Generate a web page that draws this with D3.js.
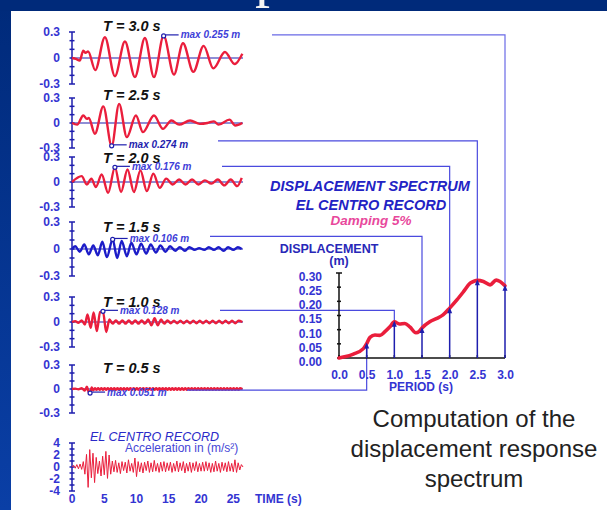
<!DOCTYPE html>
<html><head><meta charset="utf-8">
<script src="https://cdn.jsdelivr.net/npm/d3@7"></script>
<style>html,body{margin:0;padding:0;background:#fff}svg{display:block}</style>
</head><body><svg id="chart" width="607" height="510"></svg>
<script>
// ---- data ----
const periods = [3.0, 2.5, 2.0, 1.5, 1.0, 0.5];
const peakDisp = [0.255, 0.274, 0.176, 0.106, 0.128, 0.051];

// displacement response histories [time s, displacement m]
const resp30 = [[0,0],[0.6,-0.01],[1.2,-0.03],[1.75,0.085],[2.1,0.06],[2.5,0.075],[3.6,-0.14],[5.1,0.24],[6.65,-0.21],[8.2,0.19],[9.75,-0.22],[11.3,0.23],[12.7,-0.22],[14.2,0.255],[15.8,-0.19],[17.2,0.17],[18.8,-0.16],[20.4,0.14],[21.9,-0.12],[23.7,0.07],[25.2,-0.07],[26.4,0.05]];
const resp25 = [[0,0],[0.8,-0.02],[1.75,0.09],[2.3,0.05],[2.6,0.06],[3.55,-0.13],[4.85,0.2],[6.15,-0.274],[7.3,0.23],[8.5,-0.17],[9.9,0.09],[11.0,-0.11],[12.7,0.09],[14.1,-0.07],[15.4,0.03],[16.6,-0.02],[18.3,0.03],[19.8,-0.01],[21.0,0.0],[22.0,0.02],[22.7,-0.02],[24.4,0.04],[25.3,-0.03],[26.4,0.0]];
const resp20 = [[0,0],[1.5,0.07],[2.3,-0.03],[3.0,0.04],[3.7,-0.06],[4.6,0.09],[5.6,-0.13],[6.65,0.176],[7.6,-0.12],[8.6,0.15],[9.6,-0.12],[10.6,0.14],[11.6,-0.11],[12.6,0.1],[13.6,-0.07],[14.6,0.04],[15.6,-0.03],[16.6,0.03],[17.6,-0.03],[18.6,0.03],[19.6,-0.03],[20.6,0.02],[21.6,-0.02],[22.6,0.03],[23.6,-0.04],[24.6,0.03],[25.6,-0.05],[26.3,0.05]];
const resp15 = [[0,0],[0.5,0.03],[1.2,-0.03],[1.9,0.05],[2.6,-0.06],[3.3,0.04],[4.0,-0.07],[4.7,0.08],[5.4,-0.09],[6.3,0.106],[7.0,-0.1],[7.7,0.09],[8.5,-0.08],[9.2,0.07],[10.0,-0.06],[10.7,0.06],[11.5,-0.05],[12.2,0.05],[13.0,-0.04],[13.7,0.04],[14.5,-0.03],[15.2,0.03],[16.0,-0.02],[16.7,0.02],[17.5,-0.02],[18.2,0.02],[19.0,-0.01],[19.7,0.01],[20.5,-0.01],[21.2,0.02],[22.0,-0.01],[22.7,0.02],[23.5,-0.02],[24.2,0.02],[25.0,-0.01],[25.7,0.02],[26.3,0.0]];
const resp10 = [[0,0],[0.5,0.01],[1.0,-0.01],[1.5,0.02],[2.0,-0.03],[2.4,0.09],[2.9,-0.07],[3.35,0.116],[3.85,-0.11],[4.35,0.12],[4.8,0.128],[5.3,-0.12],[5.8,0.03],[6.3,-0.02],[6.8,0.02],[7.3,-0.02],[7.8,0.02],[8.3,-0.02],[8.8,0.02],[9.3,-0.02],[9.8,0.02],[10.3,-0.02],[10.8,0.02],[11.3,-0.02],[11.8,0.03],[12.3,-0.04],[12.8,0.045],[13.3,-0.04],[13.8,0.03],[14.3,-0.02],[14.8,0.02],[15.3,-0.015],[15.8,0.015],[16.3,-0.015],[16.8,0.015],[17.3,-0.015],[17.8,0.015],[18.3,-0.015],[18.8,0.015],[19.3,-0.015],[19.8,0.015],[20.3,-0.015],[20.8,0.015],[21.3,-0.015],[21.8,0.015],[22.3,-0.015],[22.8,0.015],[23.3,-0.015],[23.8,0.015],[24.3,-0.015],[24.8,0.015],[25.3,-0.015],[25.8,0.015],[26.4,0]];
const resp05 = [[0,0],[0.5,0.005],[1.0,-0.005],[1.5,0.01],[2.0,-0.02],[2.3,0.03],[2.55,-0.03],[2.8,-0.051],[3.05,0.02],[3.3,-0.015],[3.55,0.01],[3.8,-0.01],[4.05,0.01],[4.3,-0.01],[4.55,0.01],[4.8,-0.01],[5.05,0.01],[5.3,-0.01],[5.55,0.01],[5.8,-0.01],[6.05,0.01],[6.3,-0.01],[6.55,0.01],[6.8,-0.01],[7.05,0.01],[7.3,-0.01],[7.55,0.01],[7.8,-0.01],[8.05,0.01],[8.3,-0.01],[8.55,0.01],[8.8,-0.01],[9.05,0.01],[9.3,-0.01],[9.55,0.01],[9.8,-0.01],[10.05,0.01],[10.3,-0.01],[10.55,0.01],[10.8,-0.01],[11.05,0.01],[11.3,-0.01],[11.55,0.01],[11.8,-0.01],[12.05,0.01],[12.3,-0.01],[12.55,0.01],[12.8,-0.01],[13.05,0.01],[13.3,-0.01],[13.55,0.01],[13.8,-0.01],[14.05,0.01],[14.3,-0.01],[14.55,0.01],[14.8,-0.01],[15.05,0.01],[15.3,-0.01],[15.55,0.01],[15.8,-0.01],[16.05,0.01],[16.3,-0.01],[16.55,0.01],[16.8,-0.01],[17.05,0.01],[17.3,-0.01],[17.55,0.01],[17.8,-0.01],[18.05,0.01],[18.3,-0.01],[18.55,0.01],[18.8,-0.01],[19.05,0.01],[19.3,-0.01],[19.55,0.01],[19.8,-0.01],[20.05,0.01],[20.3,-0.01],[20.55,0.01],[20.8,-0.01],[21.05,0.01],[21.3,-0.01],[21.55,0.01],[21.8,-0.01],[22.05,0.01],[22.3,-0.01],[22.55,0.01],[22.8,-0.01],[23.05,0.01],[23.3,-0.01],[23.55,0.01],[23.8,-0.01],[24.05,0.01],[24.3,-0.01],[24.55,0.01],[24.8,-0.01],[25.05,0.01],[25.3,-0.01],[25.55,0.01],[25.8,-0.01],[26.05,0.01],[26.4,0]];
const responses = [resp30, resp25, resp20, resp15, resp10, resp05];

// ground acceleration (m/s²), sampled every accelStep seconds
const accelStep = 0.25;
const accel = [
  0,0.3,-0.2,0.4,-0.3,0.5,-0.4,
  0.9,-1.2,
  2.1,-3.4,2.9,-1.8,2.3,-2.6,1.6,-1.1,1.0,-1.5,1.8,-1.3,2.6,-1.9,2.0,-1.2,
  1.0,-0.8,1.1,-0.9,0.7,-1.1,0.9,-0.6,0.8,-1.0,1.2,-0.7,0.6,-0.9,1.5,-1.6,
  0.9,-0.8,0.7,-1.0,0.8,-0.6,1.0,-0.9,0.7,-0.8,1.1,-0.7,0.6,-0.9,0.8,-0.7,0.9,-0.8,0.7,-0.6,
  0.8,-0.9,0.6,-0.7,1.0,-0.8,0.7,-0.6,0.9,-1.0,0.6,-0.7,0.8,-0.9,0.7,-0.6,0.9,-0.8,0.6,-0.7,
  0.8,-0.7,0.9,-0.6,0.7,-0.9,0.6,-0.8,1.0,-0.7,0.6,-0.9,0.8,-0.6,0.7,-0.8,0.9,-0.7,0.6,-0.8,
  1.2,-0.9,0.7,-0.5,0.4,0];

// displacement spectrum (5% damping)
const specPeriod = [0,0.1,0.26,0.44,0.5,0.56,0.65,0.74,0.83,0.92,1.0,1.09,1.19,1.28,1.39,1.45,1.5,1.64,1.77,1.88,2.0,2.13,2.25,2.37,2.45,2.5,2.61,2.73,2.84,2.91,3.0];
const specDisp   = [0,0.004,0.014,0.033,0.051,0.073,0.081,0.080,0.093,0.11,0.128,0.12,0.122,0.11,0.089,0.094,0.106,0.128,0.14,0.152,0.176,0.205,0.234,0.264,0.272,0.274,0.27,0.258,0.275,0.27,0.255];

// tick labels
const dispTicks = [0.3, 0, -0.3];
const dispMinor = [0.3, 0.2, 0.1, 0, -0.1, -0.2, -0.3];
const accelTicks = [4, 2, 0, -2, -4];
const accelMinor = [4, 3, 2, 1, 0, -1, -2, -3, -4];
const timeTicks = [0, 5, 10, 15, 20, 25];
const specYTicks = [0, 0.05, 0.10, 0.15, 0.20, 0.25, 0.30];
const specXTicks = [0, 0.5, 1.0, 1.5, 2.0, 2.5, 3.0];

// ---- layout ----
const W = 607, H = 510;
const FONT = "Arial, 'Liberation Sans', sans-serif";
const BLUE = "#3434d2", DARK = "#1e1eae", RED = "#ea1e3c", LINK = "#4a4ade";
// hyphen-minus labels as on the original slide
const plain = d => String(d);
// per-panel vertical placement: zero line, pixels for 0.3 m, title baseline
const panels = [
  {zero: 58,  half: 26, titleY: 31,  color: RED,       conn: 272, connDy: 0,  link: "#6a6ae6"},
  {zero: 123, half: 25, titleY: 100, color: RED,       conn: 218, connDy: -4, link: LINK},
  {zero: 182, half: 25, titleY: 163, color: RED,       conn: 222, connDy: 0,  link: LINK},
  {zero: 249, half: 27, titleY: 232, color: "#1c1cc8", conn: 210, connDy: -2, link: LINK},
  {zero: 322, half: 25, titleY: 307, color: RED,       conn: 220, connDy: 0,  link: LINK},
  {zero: 389, half: 24, titleY: 373, color: RED,       conn: 187, connDy: -2, link: LINK}
];

const svg = d3.select("#chart");

// slide background
const defs = svg.append("defs");
const grad = defs.append("linearGradient").attr("id", "edge").attr("x1", 0).attr("y1", 0).attr("x2", 0).attr("y2", 1);
grad.append("stop").attr("offset", "0%").attr("stop-color", "#002a7a");
grad.append("stop").attr("offset", "100%").attr("stop-color", "#0a3fa6");
svg.append("rect").attr("width", W).attr("height", H).attr("fill", "url(#edge)");
svg.append("rect").attr("width", W).attr("height", 11).attr("fill", "#002a7a");
svg.append("text").attr("x", 255).attr("y", -5).attr("font-family", "'Liberation Serif', serif")
  .attr("font-size", 60).attr("fill", "#f4f4f4").text("p");
svg.append("rect").attr("x", 11).attr("y", 11).attr("width", W - 11).attr("height", H - 11).attr("fill", "#ffffff");

// shared time scale for all histories
const xt = d3.scaleLinear().domain([0, 26.5]).range([72, 243]);

// spectrum scales
const xs = d3.scaleLinear().domain([0, 3]).range([339, 505]);
const ys = d3.scaleLinear().domain([0, 0.3]).range([358, 273]);

const line = d3.line().curve(d3.curveMonotoneX);

function yAxisBar(g, y, minor, x0) {
  g.append("line").attr("x1", x0).attr("x2", x0)
    .attr("y1", y(d3.max(minor))).attr("y2", y(d3.min(minor)))
    .attr("stroke", DARK).attr("stroke-width", 1.5);
  g.selectAll(null).data(minor).join("line")
    .attr("x1", (d, i) => x0 - (i === 0 || i === minor.length - 1 ? 3 : 2.5))
    .attr("x2", (d, i) => x0 + (i === 0 || i === minor.length - 1 ? 3 : 2.5))
    .attr("y1", d => y(d)).attr("y2", d => y(d))
    .attr("stroke", DARK).attr("stroke-width", 1.5);
}

// response panels
panels.forEach((p, i) => {
  const y = d3.scaleLinear().domain([-0.3, 0.3]).range([p.zero + p.half, p.zero - p.half]);
  const g = svg.append("g");
  // zero line
  g.append("line").attr("x1", xt(0)).attr("x2", xt(26.5)).attr("y1", y(0)).attr("y2", y(0))
    .attr("stroke", DARK).attr("stroke-width", 1.2);
  yAxisBar(g, y, dispMinor, xt(0));
  g.selectAll(null).data(dispTicks).join("text")
    .attr("x", 60).attr("y", d => y(d)).attr("dy", "0.36em").attr("text-anchor", "end")
    .attr("font-family", FONT).attr("font-weight", "bold").attr("font-size", 12)
    .attr("fill", BLUE).text(plain);
  // response
  const data = responses[i];
  g.append("path").attr("d", line(data.map(d => [xt(d[0]), y(d[1])])))
    .attr("fill", "none").attr("stroke", p.color).attr("stroke-width", 2.4)
    .attr("stroke-linejoin", "round");
  // title
  g.append("text").attr("x", 103).attr("y", p.titleY)
    .attr("font-family", FONT).attr("font-weight", "bold").attr("font-style", "italic")
    .attr("font-size", 14.5).attr("fill", "#111").text(`T = ${periods[i].toFixed(1)} s`);
  // peak marker and label
  const pk = data.reduce((a, b) => Math.abs(b[1]) > Math.abs(a[1]) ? b : a);
  const mx = xt(pk[0]), my = y(pk[1]);
  g.append("line").attr("x1", mx + 2).attr("x2", mx + 15).attr("y1", my - 1).attr("y2", my - 1)
    .attr("stroke", DARK).attr("stroke-width", 1.2);
  g.append("circle").attr("cx", mx).attr("cy", my).attr("r", 2)
    .attr("fill", "#fff").attr("stroke", DARK).attr("stroke-width", 1.2);
  g.append("text").attr("x", mx + 17).attr("y", my - 1).attr("dy", "0.35em")
    .attr("font-family", FONT).attr("font-weight", "bold").attr("font-style", "italic")
    .attr("font-size", 10).attr("fill", i === 1 ? DARK : "#4040d8")
    .text(`max ${peakDisp[i].toFixed(3)} m`);
  // link to spectrum ordinate
  const cy = my - 1 + p.connDy;
  const px = xs(periods[i]), py = ys(peakDisp[i]);
  g.append("path").attr("d", `M${p.conn},${cy}H${px}V${py}`)
    .attr("fill", "none").attr("stroke", p.link).attr("stroke-width", 1.2);
});

// ground acceleration panel
{
  const y = d3.scaleLinear().domain([-4, 4]).range([491, 443]);
  const g = svg.append("g");
  yAxisBar(g, y, accelMinor, xt(0));
  g.selectAll(null).data(accelTicks).join("text")
    .attr("x", 60).attr("y", d => y(d)).attr("dy", "0.36em").attr("text-anchor", "end")
    .attr("font-family", FONT).attr("font-weight", "bold").attr("font-size", 12)
    .attr("fill", BLUE).text(plain);
  g.append("path").attr("d", d3.line()(accel.map((v, k) => [xt(k * accelStep), y(v)])))
    .attr("fill", "none").attr("stroke", RED).attr("stroke-width", 1);
  g.selectAll(null).data(timeTicks).join("text")
    .attr("x", d => xt(d)).attr("y", 503).attr("text-anchor", "middle")
    .attr("font-family", FONT).attr("font-weight", "bold").attr("font-size", 12)
    .attr("fill", BLUE).text(plain);
  g.append("text").attr("x", 255).attr("y", 503)
    .attr("font-family", FONT).attr("font-weight", "bold").attr("font-size", 12)
    .attr("fill", BLUE).text("TIME (s)");
  g.append("text").attr("x", 90).attr("y", 441)
    .attr("font-family", FONT).attr("font-style", "italic").attr("font-size", 12.5)
    .attr("fill", "#2a2ac8").text("EL CENTRO RECORD");
  g.append("text").attr("x", 125).attr("y", 452)
    .attr("font-family", FONT).attr("font-size", 12)
    .attr("fill", "#4646d6").text("Acceleration in (m/s²)");
}

// displacement spectrum
{
  const g = svg.append("g");
  const bold = sel => sel.attr("font-family", FONT).attr("font-weight", "bold");
  bold(g.append("text")).attr("x", 370).attr("y", 191).attr("text-anchor", "middle")
    .attr("font-style", "italic").attr("font-size", 14.5).attr("fill", "#2323c4").text("DISPLACEMENT SPECTRUM");
  bold(g.append("text")).attr("x", 371).attr("y", 210).attr("text-anchor", "middle")
    .attr("font-style", "italic").attr("font-size", 14.5).attr("fill", "#2323c4").text("EL CENTRO RECORD");
  bold(g.append("text")).attr("x", 371).attr("y", 225).attr("text-anchor", "middle")
    .attr("font-style", "italic").attr("font-size", 13.5).attr("fill", "#e8489c").text("Damping 5%");
  bold(g.append("text")).attr("x", 329).attr("y", 253).attr("text-anchor", "middle")
    .attr("font-size", 12.5).attr("fill", "#2828b8").text("DISPLACEMENT");
  bold(g.append("text")).attr("x", 339).attr("y", 265).attr("text-anchor", "middle")
    .attr("font-size", 12.5).attr("fill", "#2828b8").text("(m)");

  // y axis
  g.append("line").attr("x1", xs(0)).attr("x2", xs(0)).attr("y1", ys(0.3)).attr("y2", ys(0))
    .attr("stroke", "#111").attr("stroke-width", 1.5);
  g.selectAll(null).data(specYTicks).join("line")
    .attr("x1", d => xs(0) - (d === 0.3 ? 3 : 2)).attr("x2", d => xs(0) + (d === 0.3 ? 3 : 2))
    .attr("y1", d => ys(d)).attr("y2", d => ys(d)).attr("stroke", "#111").attr("stroke-width", 1.5);
  const ay = g.append("g").attr("transform", `translate(${xs(0)},0)`)
    .call(d3.axisLeft(ys).tickValues(specYTicks).tickSize(0).tickPadding(17).tickFormat(d3.format(".2f")));
  ay.select(".domain").remove();
  ay.selectAll("text").attr("font-family", FONT).attr("font-weight", "bold").attr("font-size", 12)
    .attr("fill", BLUE).attr("dy", "0.62em");
  // x axis
  g.append("line").attr("x1", xs(0)).attr("x2", xs(3)).attr("y1", ys(0)).attr("y2", ys(0))
    .attr("stroke", "#111").attr("stroke-width", 1.5);
  g.selectAll(null).data(specXTicks).join("line")
    .attr("x1", d => xs(d)).attr("x2", d => xs(d)).attr("y1", ys(0)).attr("y2", ys(0) - 3)
    .attr("stroke", "#111").attr("stroke-width", 1.5);
  const ax = g.append("g").attr("transform", `translate(0,${ys(0)})`)
    .call(d3.axisBottom(xs).tickValues(specXTicks).tickSize(0).tickPadding(12).tickFormat(d3.format(".1f")));
  ax.select(".domain").remove();
  ax.selectAll("text").attr("font-family", FONT).attr("font-weight", "bold").attr("font-size", 12)
    .attr("fill", BLUE);
  bold(g.append("text")).attr("x", 421).attr("y", 391).attr("text-anchor", "middle")
    .attr("font-size", 12).attr("fill", BLUE).text("PERIOD (s)");

  // spectrum curve
  g.append("path").attr("d", line(specPeriod.map((t, k) => [xs(t), ys(specDisp[k])])))
    .attr("fill", "none").attr("stroke", RED).attr("stroke-width", 3.6).attr("stroke-linecap", "round");

  // ordinates with arrowheads
  periods.forEach((T, i) => {
    const px = xs(T), py = ys(peakDisp[i]);
    g.append("line").attr("x1", px).attr("x2", px).attr("y1", ys(0)).attr("y2", py + 2)
      .attr("stroke", DARK).attr("stroke-width", 1.5);
    g.append("path").attr("d", `M${px},${py - 1}L${px - 2.5},${py + 5}L${px + 2.5},${py + 5}Z`).attr("fill", DARK);
  });
}

// caption
svg.append("text").attr("x", 474).attr("y", 0).attr("text-anchor", "middle")
  .attr("font-family", FONT).attr("font-size", 24).attr("fill", "#222")
  .selectAll("tspan").data(["Computation of the", "displacement response", "spectrum"]).join("tspan")
  .attr("x", 474).attr("y", (d, k) => 427 + k * 30).text(d => d);
</script>
</body></html>
